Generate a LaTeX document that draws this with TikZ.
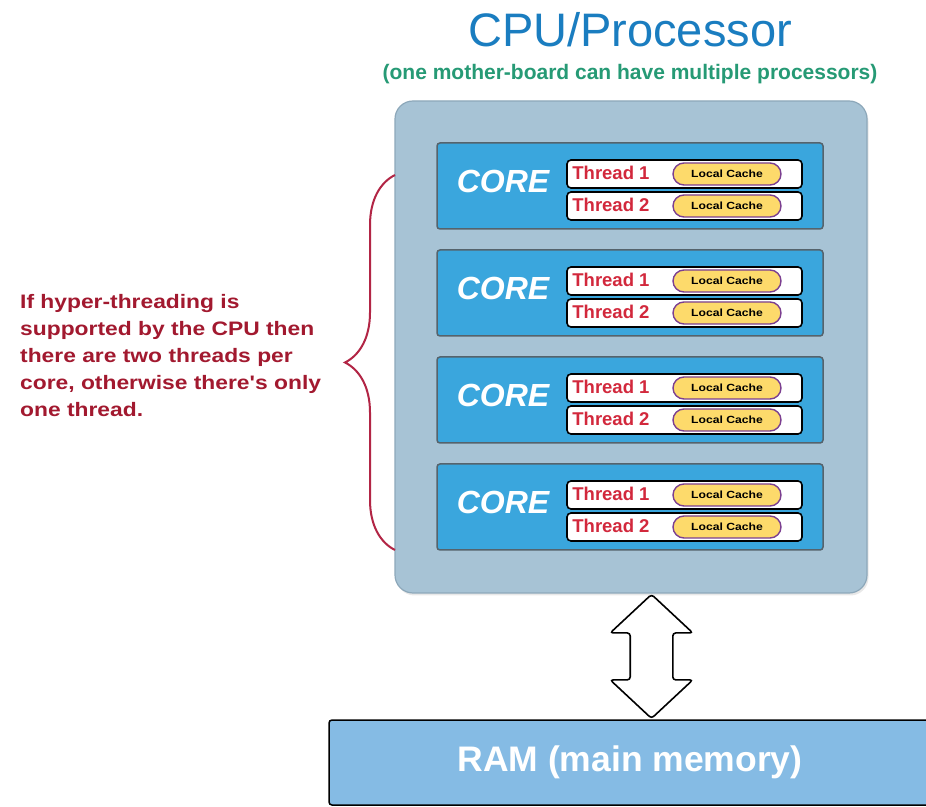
\documentclass[tikz,border=0pt]{standalone}
\usepackage{fontspec}
\setmainfont{Liberation Sans}
\newfontfamily\widefont[FakeStretch=1.17]{Liberation Sans}
\usetikzlibrary{calc,positioning,shapes.arrows,shadows,decorations.pathreplacing}
\definecolor{titleblue}{HTML}{1A7DC0}
\definecolor{notegreen}{HTML}{269A75}
\definecolor{cpufill}{HTML}{A7C3D5}
\definecolor{cpuedge}{HTML}{8DA8BA}
\definecolor{corefill}{HTML}{3AA6DD}
\definecolor{coreedge}{HTML}{55636C}
\definecolor{threadred}{HTML}{D2283C}
\definecolor{pillfill}{HTML}{FDDA6B}
\definecolor{pilledge}{HTML}{7B3F91}
\definecolor{notered}{HTML}{A2192F}
\definecolor{bracered}{HTML}{B22545}
\definecolor{ramfill}{HTML}{85BBE4}

\begin{document}
\begin{tikzpicture}[x=1pt,y=1pt,
  cpubox/.style={draw=cpuedge,fill=cpufill,line width=1.2pt,rounded corners=18pt,
    minimum width=472pt,minimum height=492pt,
    drop shadow={shadow xshift=1.5pt,shadow yshift=-2.5pt,opacity=0.18}},
  corebox/.style={draw=coreedge,fill=corefill,line width=1.5pt,rounded corners=3pt,
    minimum width=386pt,minimum height=86pt},
  coretext/.style={inner sep=0pt,text=white,font=\bfseries\itshape\fontsize{32}{36}\selectfont},
  threadbox/.style={draw=black,fill=white,line width=1.6pt,rounded corners=4pt,
    minimum width=235pt,minimum height=28pt},
  threadtext/.style={inner sep=0pt,text=threadred,font=\bfseries\fontsize{18.5}{22}\selectfont},
  cachepill/.style={draw=pilledge,fill=pillfill,line width=1.4pt,rounded corners=11pt,
    minimum width=108pt,minimum height=22pt,inner sep=0pt,
    font=\widefont\bfseries\fontsize{10.4}{12}\selectfont},
  twoway/.style={double arrow,draw=black,fill=white,line width=1.6pt,rounded corners=3pt,
    rotate=90,minimum height=124pt,inner xsep=0pt,inner ysep=20.5pt,
    double arrow head extend=20pt,double arrow tip angle=94},
  rambox/.style={draw=black,fill=ramfill,line width=1.5pt,rounded corners=3pt,
    minimum width=602pt,minimum height=85pt,text=white,
    font=\bfseries\fontsize{35.5}{40}\selectfont},
  bracestyle/.style={draw=bracered,line width=2pt,decorate,
    decoration={brace,amplitude=50pt}}]

  \useasboundingbox (0,0) rectangle (926,806);
  \clip (0,0) rectangle (926,806);
  \fill[white] (0,0) rectangle (926,806);

  % Headings
  \node[anchor=base,inner sep=0pt,text=titleblue,font=\fontsize{47}{52}\selectfont]
    (title) at (630,759) {CPU/Processor};
  \node[anchor=base,inner sep=0pt,text=notegreen,font=\bfseries\fontsize{21}{25}\selectfont]
    (subtitle) at (630,726) {(one mother-board can have multiple processors)};

  % Processor with its cores
  \node[cpubox] (cpu) at (631,459) {};
  \foreach \i in {1,...,4} {
    \node[corebox] (core\i) at (630,{620-107*(\i-1)}) {};
    \node[coretext,anchor=base] (corelabel\i) at ($(core\i.center)+(-127,-7)$) {CORE};
    \foreach \j/\dy in {1/12,2/-20} {
      \node[threadbox] (thread\i\j) at ($(core\i.center)+(54.5,\dy)$) {};
      \node[threadtext,anchor=base west] (threadlabel\i\j) at ($(thread\i\j.west)+(6,-5.5)$) {Thread \j};
      \node[cachepill] (cache\i\j) at ($(thread\i\j.center)+(42.5,0)$) {Local Cache};
    }
  }

  % Hyper-threading note
  \coordinate (bracebottom) at (395,256);
  \coordinate (bracetop) at (395,631);
  \draw[bracestyle] (bracebottom) -- (bracetop);
  \node[anchor=north west,inner sep=0pt,align=left,text=notered,
    font=\widefont\bfseries\fontsize{19.5}{27}\selectfont] (note) at (20,512)
    {If hyper-threading is\\supported by the CPU then\\there are two threads per\\core, otherwise there's only\\one thread.};

  % Memory
  \node[rambox] (ram) at (630,43.5) {RAM (main memory)};
  \node[twoway] (link) at ($(cpu.south)!0.5!(ram.north)+(21,0)$) {};
\end{tikzpicture}
\end{document}
